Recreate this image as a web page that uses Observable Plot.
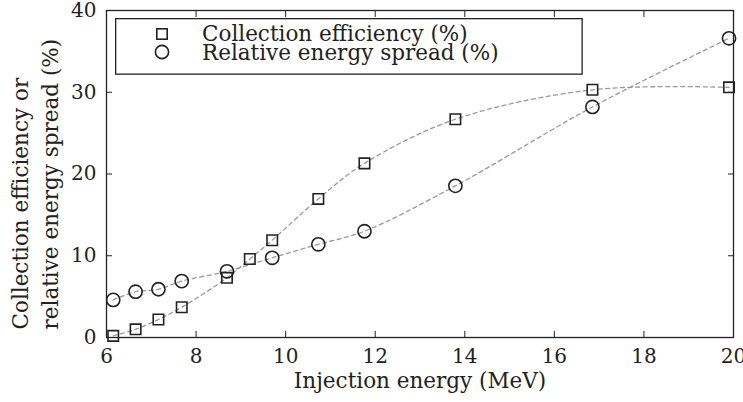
<!DOCTYPE html>
<html><head><meta charset="utf-8">
<script src="https://cdn.jsdelivr.net/npm/d3@7"></script>
<script src="https://cdn.jsdelivr.net/npm/@observablehq/plot@0.6"></script>
<style>
body{margin:0;background:#fff;}
#wrap{position:relative;width:743px;height:402px;}
#legend{position:absolute;left:115px;top:18px;}
</style></head><body>
<div id="wrap"><div id="legend"></div></div>
<script>
const collEnergy = [6.15,6.65,7.16,7.68,8.69,9.2,9.7,10.73,11.76,13.79,16.85,19.9];
const collEff = [0.2,1.0,2.2,3.7,7.3,9.6,11.9,16.95,21.3,26.7,30.3,30.6];
const spreadEnergy = [6.15,6.65,7.16,7.68,8.69,9.7,10.73,11.76,13.79,16.85,19.9];
const spread = [4.6,5.6,5.9,6.9,8.1,9.75,11.4,13.0,18.55,28.2,36.6];
const xTicks = [6,8,10,12,14,16,18,20];
const yTicks = [0,10,20,30,40];
const seriesNames = ["Collection efficiency (%)", "Relative energy spread (%)"];
const xLabel = "Injection energy (MeV)";
const yLabel = "Collection efficiency or\nrelative energy spread (%)";

const coll = collEnergy.map((x,i)=>({x, y: collEff[i]}));
const spr = spreadEnergy.map((x,i)=>({x, y: spread[i]}));
const FONT = "'DejaVu Serif', 'Liberation Serif', serif";
const ink = "#222";
const LABEL_SIZE = 21.5;

const chart = Plot.plot({
  width: 743, height: 402,
  marginLeft: 106, marginRight: 10, marginTop: 10, marginBottom: 65,
  style: {fontFamily: FONT, fontSize: "20px", color: ink, background: "#fff"},
  x: {domain: [6, 20]},
  y: {domain: [0, 40]},
  marks: [
    Plot.line(coll, {x: "x", y: "y", curve: "catmull-rom", stroke: "#999", strokeWidth: 1.3, strokeDasharray: "4,3.5"}),
    Plot.line(spr, {x: "x", y: "y", curve: "catmull-rom", stroke: "#999", strokeWidth: 1.3, strokeDasharray: "4,3.5"}),
    Plot.dot(coll, {x: "x", y: "y", symbol: "square", r: 5.9, stroke: ink, strokeWidth: 1.6, fill: "none"}),
    Plot.dot(spr, {x: "x", y: "y", symbol: "circle", r: 6.6, stroke: ink, strokeWidth: 1.6, fill: "none"}),
    Plot.frame({stroke: ink, strokeWidth: 1.3}),
    Plot.axisX(xTicks, {anchor: "bottom", tickSize: -6, tickPadding: 17, label: null, stroke: ink, fill: ink, fontSize: 20}),
    Plot.axisX(xTicks, {anchor: "top", tickSize: -6, tickFormat: () => "", label: null, stroke: ink}),
    Plot.axisY(yTicks, {anchor: "left", tickSize: -6, tickPadding: 16, label: null, stroke: ink, fill: ink, fontSize: 20}),
    Plot.axisY(yTicks, {anchor: "right", tickSize: -6, tickFormat: () => "", label: null, stroke: ink}),
    Plot.text([xLabel], {text: d => d, frameAnchor: "bottom", dy: 44, lineAnchor: "middle", fill: ink, fontSize: LABEL_SIZE}),
    Plot.text([yLabel], {text: d => d, frameAnchor: "bottom-left", dx: -73.5, dy: -8, rotate: -90, textAnchor: "start", lineAnchor: "middle", lineHeight: 1.4, fill: ink, fontSize: LABEL_SIZE})
  ]
});
document.getElementById("wrap").prepend(chart);

// legend
const lg = d3.select("#legend").append("svg").attr("width", 468).attr("height", 57);
lg.append("rect").attr("x", 0.65).attr("y", 0.65).attr("width", 466.5).attr("height", 55.5)
  .attr("fill", "#fff").attr("stroke", ink).attr("stroke-width", 1.3);
const markerY = [16, 34];
const textY = [23, 42];
lg.append("rect").attr("x", 47-5.2).attr("y", markerY[0]-5.2).attr("width", 10.4).attr("height", 10.4)
  .attr("fill", "none").attr("stroke", ink).attr("stroke-width", 1.6);
lg.append("circle").attr("cx", 47).attr("cy", markerY[1]).attr("r", 6.6)
  .attr("fill", "none").attr("stroke", ink).attr("stroke-width", 1.6);
lg.selectAll("text.lab").data(seriesNames).join("text").attr("class", "lab")
  .attr("x", 87).attr("y", (d,i) => textY[i])
  .attr("font-family", FONT).attr("font-size", LABEL_SIZE).attr("fill", ink).text(d => d);
</script>
</body></html>
